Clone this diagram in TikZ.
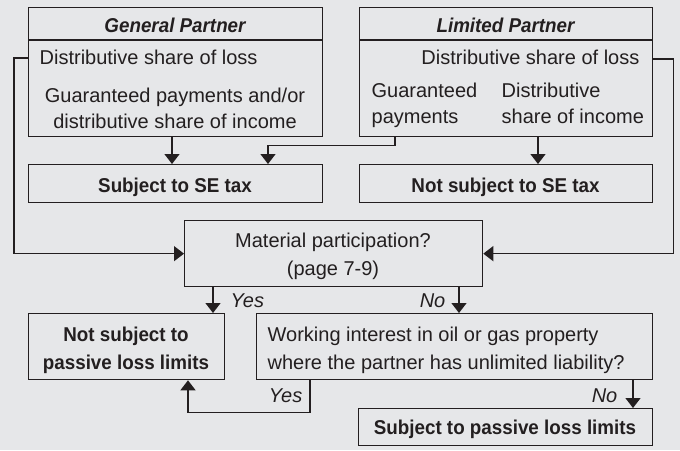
\documentclass[tikz,border=0pt]{standalone}
\usepackage{fontspec}
\setmainfont{Liberation Sans}[BoldFeatures={FakeStretch=0.94},BoldItalicFeatures={FakeStretch=0.94}]
\usetikzlibrary{arrows.meta}
\definecolor{bg}{HTML}{E6E7E9}
\definecolor{ink}{HTML}{231F20}
\tikzset{
  box/.style={draw=ink, rectangle, inner sep=0pt, anchor=north west},
  txt/.style={text=ink, inner sep=0pt, anchor=base, font=\fontsize{20}{24}\selectfont},
  btxt/.style={txt, font=\fontsize{20}{24}\selectfont\bfseries},
  htxt/.style={txt, font=\fontsize{20}{24}\selectfont\bfseries\itshape},
  itxt/.style={txt, font=\fontsize{20}{24}\selectfont\itshape},
  arr/.style={draw=ink, -{Triangle[width=15pt,length=10pt]}},
  link/.style={draw=ink}
}
\begin{document}
\begin{tikzpicture}[x=1pt,y=-1pt,line width=1.3pt]
\fill[bg] (0,0) rectangle (680,450);
\useasboundingbox (0,0) rectangle (680,450);

% General partner
\node[box, minimum width=294pt, minimum height=129pt] (gp) at (28,7) {};
\draw[link] (gp.west |- 0,40) -- (gp.east |- 0,40);
\node[htxt] (gph) at (175,32) {General Partner};
\node[txt, anchor=base west] (gploss) at (39,64) {Distributive share of loss};
\node[txt] (gpinc1) at (175,102) {Guaranteed payments and/or};
\node[txt] (gpinc2) at (175,128) {distributive share of income};

% Limited partner
\node[box, minimum width=293pt, minimum height=129pt] (lp) at (359,7) {};
\draw[link] (lp.west |- 0,40) -- (lp.east |- 0,40);
\node[htxt] (lph) at (505.5,32) {Limited Partner};
\node[txt, anchor=base east] (lploss) at (640,64) {Distributive share of loss};
\node[txt, anchor=base west] (lpg1) at (371,97) {Guaranteed};
\node[txt, anchor=base west] (lpg2) at (371,123) {payments};
\node[txt, anchor=base west] (lpd1) at (501,97) {Distributive};
\node[txt, anchor=base west] (lpd2) at (501,123) {share of income};

% SE tax boxes
\node[box, minimum width=294pt, minimum height=38pt] (se) at (28,164) {};
\node[btxt] (set) at (175,192) {Subject to SE tax};
\node[box, minimum width=293pt, minimum height=38pt] (nse) at (359,164) {};
\node[btxt] (nset) at (505.5,192) {Not subject to SE tax};

% Material participation
\node[box, minimum width=298pt, minimum height=66pt] (mp) at (184,220) {};
\node[txt] (mpt1) at (333,247) {Material participation?};
\node[txt] (mpt2) at (333,275) {(page 7-9)};

% Not subject to passive
\node[box, minimum width=196pt, minimum height=66pt] (np) at (28,313) {};
\node[btxt] (npt1) at (126,341) {Not subject to};
\node[btxt] (npt2) at (126,369) {passive loss limits};

% Working interest
\node[box, minimum width=396pt, minimum height=66pt] (wi) at (256,313) {};
\node[txt, anchor=base west] (wit1) at (267,341) {Working interest in oil or gas property};
\node[txt, anchor=base west] (wit2) at (267,369) {where the partner has unlimited liability?};

% Subject to passive
\node[box, minimum width=294pt, minimum height=37pt] (sp) at (358,408) {};
\node[btxt] (spt) at (505,434) {Subject to passive loss limits};

% Connectors
\draw[arr] (gp.south -| 172,0) -- (se.north -| 172,0);
\draw[arr] (lp.south -| 395,0) -- ++(0,8) -| (se.north -| 268,0);
\draw[arr] (lp.south -| 538,0) -- (nse.north -| 538,0);
\draw[arr] (gp.west |- 0,58) -- ++(-14,0) |- (mp.west);
\draw[arr] (lp.east |- 0,59) -- ++(20,0) |- (mp.east);
\draw[arr] (mp.south -| 213,0) -- (np.north -| 213,0);
\draw[arr] (mp.south -| 459,0) -- (wi.north -| 459,0);
\draw[arr] (wi.south -| 310,0) -- ++(0,32) -| (np.south -| 188,0);
\draw[arr] (wi.south -| 633,0) -- (sp.north -| 633,0);

% Labels
\node[itxt, anchor=base west] (yes1) at (230,307) {Yes};
\node[itxt, anchor=base east] (no1) at (446,307) {No};
\node[itxt, anchor=base east] (yes2) at (303,402) {Yes};
\node[itxt, anchor=base east] (no2) at (618,402) {No};
\end{tikzpicture}
\end{document}
